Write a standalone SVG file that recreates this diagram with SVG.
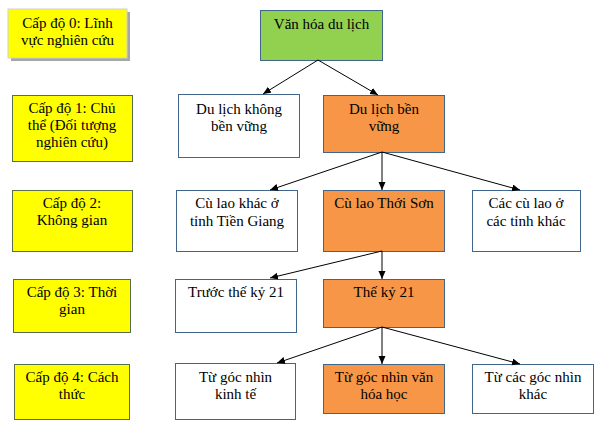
<svg xmlns="http://www.w3.org/2000/svg" width="599" height="430" viewBox="0 0 599 430">
<style>
text{font-family:"Liberation Serif","Times New Roman",serif;font-size:15px;fill:#000;text-anchor:middle}
.b{stroke:#41668c;stroke-width:1}
.y{fill:#ffff00;stroke:#5a6e4c;stroke-width:1}
.w{fill:#fff}
.o{fill:#f79646}
.g{fill:#92d050}
.c{stroke:#000;stroke-width:1;fill:none;marker-end:url(#ah)}
</style>
<defs>
<marker id="ah" markerUnits="userSpaceOnUse" markerWidth="9" markerHeight="8" refX="8" refY="3.5" orient="auto">
<path d="M0,0 L8,3.5 L0,7 z" fill="#000"/>
</marker>
</defs>
<rect width="599" height="430" fill="#fff"/>
<g id="level0">
<rect x="11" y="12" width="119" height="49" fill="#a6a6a6"/>
<rect x="8" y="9" width="119" height="49" fill="#ffff00" stroke="#d0d0d0"/>
<text x="67.5" y="28">Cấp độ 0: Lĩnh</text>
<text x="67.5" y="45">vực nghiên cứu</text>
</g>
<g id="level1">
<rect class="y" x="12.5" y="95.5" width="120" height="66"/>
<text x="72" y="113">Cấp độ 1: Chủ</text>
<text x="72" y="130">thể (Đối tượng</text>
<text x="72" y="147">nghiên cứu)</text>
</g>
<g id="level2">
<rect class="y" x="12.5" y="190.5" width="120" height="61"/>
<text x="72" y="208">Cấp độ 2:</text>
<text x="72" y="225">Không gian</text>
</g>
<g id="level3">
<rect class="y" x="13.5" y="279.5" width="117" height="53"/>
<text x="72" y="297">Cấp độ 3: Thời</text>
<text x="72" y="314">gian</text>
</g>
<g id="level4">
<rect class="y" x="14.5" y="364.5" width="115" height="55"/>
<text x="72" y="382">Cấp độ 4: Cách</text>
<text x="72" y="399">thức</text>
</g>
<g id="root">
<rect class="b g" x="260.5" y="10.5" width="122" height="50"/>
<text x="321.5" y="29">Văn hóa du lịch</text>
</g>
<g id="dl_khong">
<rect class="b w" x="178.5" y="94.5" width="121" height="63"/>
<text x="239" y="114">Du lịch không</text>
<text x="239" y="131">bền vững</text>
</g>
<g id="dl_ben">
<rect class="b o" x="323.5" y="95.5" width="121" height="57"/>
<text x="384" y="114">Du lịch bền</text>
<text x="384" y="131">vững</text>
</g>
<g id="culao_khac">
<rect class="b w" x="176.5" y="190.5" width="121" height="61"/>
<text x="237" y="208">Cù lao khác ở</text>
<text x="237" y="225.5">tỉnh Tiền Giang</text>
</g>
<g id="culao_thoison">
<rect class="b o" x="323.5" y="190.5" width="121" height="61"/>
<text x="384" y="208">Cù lao Thới Sơn</text>
</g>
<g id="culao_tinhkhac">
<rect class="b w" x="472.5" y="190.5" width="108" height="61"/>
<text x="526" y="208">Các cù lao ở</text>
<text x="526" y="225.5">các tỉnh khác</text>
</g>
<g id="truoc21">
<rect class="b w" x="175.5" y="279.5" width="121" height="53"/>
<text x="236" y="297">Trước thế kỷ 21</text>
</g>
<g id="the21">
<rect class="b o" x="323.5" y="279.5" width="121" height="48"/>
<text x="384" y="297">Thế kỷ 21</text>
</g>
<g id="kinhte">
<rect class="b w" x="175.5" y="363.5" width="120" height="56"/>
<text x="235.5" y="382">Từ góc nhìn</text>
<text x="235.5" y="399">kinh tế</text>
</g>
<g id="vanhoahoc">
<rect class="b o" x="323.5" y="364.5" width="121" height="49"/>
<text x="384" y="382">Từ góc nhìn văn</text>
<text x="384" y="399">hóa học</text>
</g>
<g id="gockhac">
<rect class="b w" x="472.5" y="364.5" width="121" height="49"/>
<text x="533" y="382">Từ các góc nhìn</text>
<text x="533" y="399">khác</text>
</g>
<g id="connectors">
<line class="c" x1="318" y1="60" x2="263" y2="94"/>
<line class="c" x1="318" y1="60" x2="378" y2="95"/>
<line class="c" x1="382" y1="152" x2="270" y2="190"/>
<line class="c" x1="382" y1="152" x2="382" y2="190"/>
<line class="c" x1="382" y1="152" x2="520" y2="190"/>
<line class="c" x1="382" y1="251" x2="270" y2="278"/>
<line class="c" x1="382" y1="251" x2="382" y2="279"/>
<line class="c" x1="382" y1="327" x2="277" y2="363"/>
<line class="c" x1="382" y1="327" x2="382" y2="364"/>
<line class="c" x1="382" y1="327" x2="520" y2="364"/>
</g>
</svg>
